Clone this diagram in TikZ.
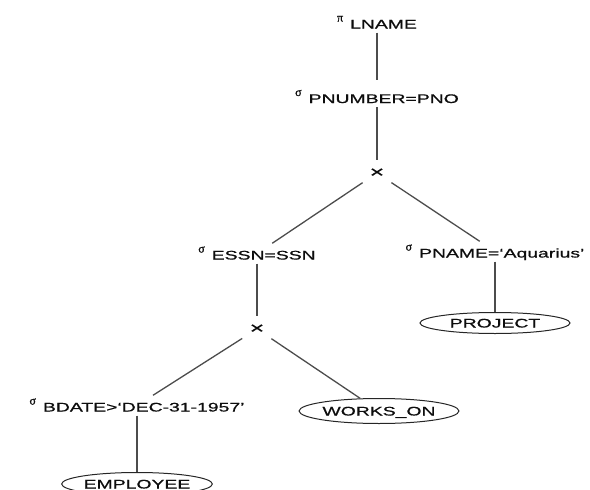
\documentclass[tikz,border=0pt]{standalone}
\usepackage{fontspec}
\usepackage{tikz}
\usetikzlibrary{shapes.geometric}
\newfontfamily\treefont[FakeStretch=1.55, FakeBold=0.8]{Liberation Sans}
\newfontfamily\greekfont[FakeBold=1]{Liberation Serif}
\newcommand{\opsym}[1]{\raisebox{7pt}[0pt][0pt]{\greekfont\fontsize{12}{12}\selectfont #1}\hspace{7pt}}

\begin{document}
\begin{tikzpicture}[x=1pt, y=-1pt,
  oplabel/.style={font=\treefont\fontsize{12.5}{15}\selectfont, text=black!95,
    anchor=base, text height=12pt, text depth=0pt, inner xsep=2pt, inner ysep=4pt},
  crossop/.style={ellipse, font=\treefont\fontsize{16}{16}\selectfont, text=black!95,
    minimum width=42pt, minimum height=26pt, inner sep=0pt},
  relation/.style={ellipse, draw=black!85, line width=1pt,
    font=\treefont\fontsize{12.5}{15}\selectfont, text=black!95,
    text height=9pt, text depth=0pt, minimum width=150pt, inner sep=0pt},
  edge/.style={draw=black!70, line width=1.3pt}]
  \useasboundingbox (0,0) rectangle (590,490);
  % operators, top to bottom
  \node[oplabel] (lname) at (377,28.5) {\opsym{π}LNAME};
  \node[oplabel] (pnum)  at (377,103) {\opsym{σ}PNUMBER=PNO};
  \node[crossop] (crossA) at (377,173) {×};
  \node[oplabel] (essn)  at (257,259.5) {\opsym{σ}ESSN=SSN};
  \node[oplabel] (pname) at (495,257.5) {\opsym{σ}PNAME=‘Aquarius’};
  \node[crossop] (crossB) at (257,329) {×};
  \node[oplabel] (bdate) at (137,411.5) {\opsym{σ}BDATE>‘DEC-31-1957’};
  % base relations
  \node[relation, minimum height=21pt] (project)  at (495,323) {PROJECT};
  \node[relation, minimum height=25pt] (workson)  at (379,411) {WORKS\_ON};
  \node[relation, minimum height=23pt] (employee) at (137,484) {EMPLOYEE};
  % tree edges
  \draw[edge, shorten >=7pt] (lname) -- (pnum);
  \foreach \a/\b in {pnum/crossA, crossA/essn, crossA/pname, essn/crossB,
    crossB/bdate, crossB/workson, pname/project, bdate/employee} {
    \draw[edge] (\a) -- (\b);
  }
\end{tikzpicture}
\end{document}
